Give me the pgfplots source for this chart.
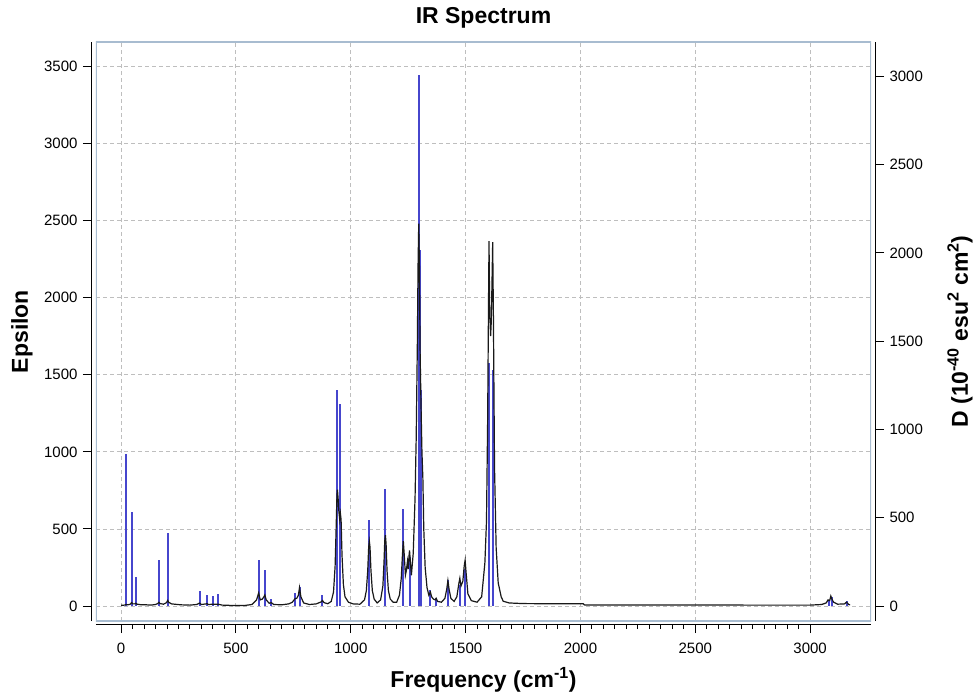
\documentclass[border=0pt]{standalone}
\usepackage{pgfplots}
\pgfplotsset{compat=1.18}
\usepackage{fontspec}
\setmainfont{Liberation Sans}

\definecolor{framecol}{RGB}{168,188,208}
\definecolor{gridcol}{RGB}{190,190,190}
\definecolor{stickblue}{RGB}{70,70,205}

\pgfplotsset{
  ir common/.style={
    scale only axis,
    width=775pt, height=579pt,
    xmin=-109, xmax=3265,
    tick align=outside,
    major tick length=9pt,
    minor tick length=5pt,
    tick style={black, line width=0.9pt},
    axis line style={black, line width=1pt},
    tick label style={font=\fontsize{15}{18}\selectfont},
    /pgf/number format/assume math mode=true,
    /pgf/number format/set thousands separator={},
  },
}

\begin{document}
\begin{tikzpicture}
% left axis: grid, frame, ticks
\begin{axis}[
  name=main,
  ir common,
  ymin=-97, ymax=3658,
  axis x line*=bottom,
  axis y line*=left,
  axis x line shift=3pt,
  axis y line shift=4pt,
  xtick={0,500,...,3000},
  ytick={0,500,...,3500},
  minor x tick num=9,
  xticklabel style={yshift=-6pt},
  yticklabel style={xshift=-2pt},
  grid=major,
  major grid style={gridcol, line width=0.8pt, dash pattern=on 4pt off 3pt},
]
\addplot[draw=none] coordinates {(0,0)};
\draw[framecol, line width=1.2pt] (rel axis cs:0,0) rectangle (rel axis cs:1,1);
\end{axis}

% right axis: stick spectrum (D)
\begin{axis}[
  ir common,
  ymin=-85, ymax=3195,
  axis x line=none,
  axis y line*=right,
  axis y line shift=4pt,
  ytick={0,500,...,3000},
  yticklabel style={xshift=2pt},
]
\addplot[ycomb, stickblue, line width=2pt, mark=none] coordinates {
  (22,860) (46,535) (64,164) (165,262) (203,413)
  (342,84) (374,63) (400,57) (423,67)
  (599,262) (626,203) (654,38) (758,73) (777,105) (877,63)
  (942,1222) (955,1143) (1081,488) (1151,665)
  (1229,552) (1256,280)
  (1296,3010) (1300,2018) (1303,1442) (1307,1223)
  (1347,93) (1372,46) (1423,150) (1475,120) (1498,207)
  (1603,1378) (1619,1337)
  (3080,30) (3095,50) (3160,30)
};
\end{axis}

% black broadened spectrum (Epsilon), on the left scale
\begin{axis}[
  ir common,
  ymin=-97, ymax=3658,
  hide axis,
]
\addplot[black!90, line width=1.2pt, mark=none] coordinates {
  (0,5) (15,6) (22,10) (30,8) (40,12) (46,22) (52,14) (60,14) (64,18) (70,12)
  (90,8) (110,8) (130,6) (150,10) (160,16) (165,24) (170,16) (185,12) (198,22)
  (203,36) (208,24) (220,14) (260,8) (300,6) (330,10) (342,19) (350,10) (370,14)
  (374,16) (380,10) (400,12) (423,12) (440,6) (480,4) (540,4) (570,10) (590,40)
  (599,84) (606,40) (615,45) (622,60) (626,72) (632,40) (645,18) (654,22) (665,10)
  (700,8) (730,14) (745,24) (758,48) (765,50) (772,70) (777,120) (783,60) (795,20)
  (820,10) (850,14) (870,26) (877,36) (884,22) (900,15) (915,30) (925,90) (932,260)
  (936,480) (940,720) (942,755) (945,700) (948,620) (952,560) (955,600) (958,560)
  (962,330) (968,140) (975,60) (990,25) (1010,14) (1040,12) (1060,40) (1068,100)
  (1074,230) (1078,380) (1081,420) (1084,380) (1088,230) (1094,100) (1102,45)
  (1115,20) (1130,40) (1140,130) (1145,290) (1148,420) (1151,460) (1154,400)
  (1158,230) (1164,100) (1172,45) (1185,25) (1200,25) (1212,70) (1220,180)
  (1225,330) (1229,420) (1233,330) (1238,200) (1242,230) (1247,290) (1250,240)
  (1254,330) (1256,360) (1259,300) (1264,200) (1272,340) (1280,700) (1285,1090)
  (1290,1700) (1293,2200) (1296,2480) (1299,2200) (1302,1650) (1306,1300)
  (1310,1000) (1314,830) (1318,500) (1324,250) (1332,120) (1340,70) (1347,90)
  (1352,60) (1360,45) (1368,40) (1372,50) (1378,30) (1395,25) (1410,50) (1418,110)
  (1423,165) (1428,110) (1436,50) (1450,30) (1462,60) (1470,140) (1475,180)
  (1480,130) (1488,160) (1494,260) (1498,297) (1502,220) (1510,80) (1525,35)
  (1550,25) (1570,60) (1584,280) (1591,550) (1596,1200) (1600,2000) (1602,2366)
  (1605,1900) (1609,1750) (1612,1850) (1615,2100) (1618,2360) (1621,1900)
  (1626,900) (1633,380) (1642,150) (1655,60) (1664,31) (1690,20) (1750,16)
  (1850,15) (2000,15) (2012,15) (2018,7) (2200,7) (2500,7) (2700,7) (2710,6)
  (3000,6) (3050,10) (3070,20) (3078,40) (3085,35) (3090,65) (3095,45) (3102,25)
  (3120,12) (3150,14) (3158,25) (3162,20) (3168,10) (3174,8)
};
\end{axis}

% titles and axis labels
\node[font=\bfseries\fontsize{23}{26}\selectfont] at ([yshift=24pt]main.north) {IR Spectrum};
\node[font=\bfseries\fontsize{23}{26}\selectfont] at ([yshift=-59pt]main.south) {Frequency (cm\textsuperscript{-1})};
\node[font=\bfseries\fontsize{23}{26}\selectfont, rotate=90] at ([xshift=-74pt]main.west) {Epsilon};
\node[font=\bfseries\fontsize{23}{26}\selectfont, rotate=90] at ([xshift=89pt]main.east) {D (10\textsuperscript{-40} esu\textsuperscript{2} cm\textsuperscript{2})};
\path ([xshift=-96pt,yshift=-75pt]main.south west) rectangle ([xshift=106pt,yshift=42pt]main.north east);
\end{tikzpicture}
\end{document}
